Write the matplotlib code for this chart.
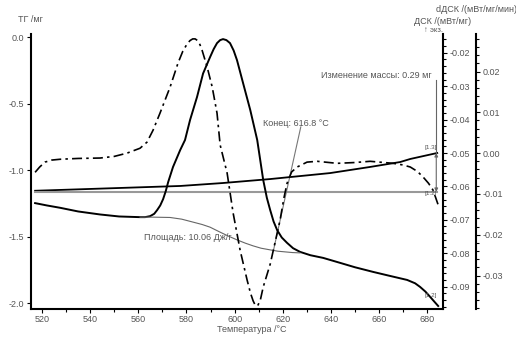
import numpy as np
import matplotlib
matplotlib.use("Agg")
import matplotlib.pyplot as plt
from matplotlib.ticker import MultipleLocator, AutoMinorLocator

plt.rcParams['font.family'] = ['Liberation Sans', 'DejaVu Sans']

# TG curve (mg)
tg_t = [517.1, 552.4, 577.4, 595.0, 614.8, 639.7, 656.3, 668.8, 673.0, 684.2]
tg_v = [-1.156, -1.135, -1.120, -1.098, -1.068, -1.023, -0.977, -0.940, -0.917, -0.872]
tg_ref = -1.165

# DSC curve (mW/mg)
dsc_t = [517.1, 522.0, 527.5, 535.0, 544.1, 552.0, 560.7, 562.8, 564.9, 566.6, 567.8,
         569.1, 570.3, 571.4, 572.4, 574.4, 577.4, 579.4, 581.5, 584.4, 586.9, 589.8,
         591.3, 592.7, 594.0, 595.2, 596.6, 598.1, 599.6, 601.0, 603.5, 606.5, 609.4,
         611.9, 613.4, 614.8, 616.2, 617.7, 619.6, 621.8, 624.3, 627.2, 631.5, 636.8,
         643.9, 650.0, 657.6, 664.0, 671.7, 675.0, 677.1, 679.3, 681.3, 683.0, 684.6]
dsc_v = [-0.0650, -0.0657, -0.0664, -0.0675, -0.0684, -0.0690, -0.0692, -0.0692, -0.0689,
         -0.0682, -0.0671, -0.0657, -0.0638, -0.0614, -0.0587, -0.0542, -0.0491, -0.0461,
         -0.0401, -0.0332, -0.0262, -0.0213, -0.0189, -0.0171, -0.0162, -0.0159, -0.0162,
         -0.0171, -0.0193, -0.0222, -0.0290, -0.0371, -0.0461, -0.0581, -0.0634, -0.0671,
         -0.0705, -0.0731, -0.0753, -0.0769, -0.0785, -0.0796, -0.0806, -0.0814, -0.0829,
         -0.0842, -0.0856, -0.0867, -0.0880, -0.0890, -0.0901, -0.0915, -0.0931, -0.0945,
         -0.0958]

# area baseline
base_t = [560.7, 566.0, 573.2, 578.0, 582.8, 586.5, 589.8, 594.0, 597.5, 601.0, 604.5,
          607.7, 611.0, 614.8, 618.0, 621.0, 624.0, 627.2]
base_v = [-0.0692, -0.0692, -0.0693, -0.0698, -0.0707, -0.0714, -0.0722, -0.0737, -0.0749,
          -0.0760, -0.0770, -0.0778, -0.0785, -0.0790, -0.0794, -0.0796, -0.0798, -0.0799]

# dDSC curve (mW/mg/min)
ddsc_t = [517.1, 519.0, 521.2, 524.0, 527.5, 535.0, 544.1, 550.0, 555.3, 560.7, 563.6,
          566.1, 569.0, 573.2, 576.5, 578.5, 580.3, 581.5, 582.6, 583.6, 584.6, 585.6,
          586.5, 588.6, 590.7, 592.7, 594.0, 596.9, 599.4, 602.3, 605.2, 606.6, 607.7,
          608.6, 609.6, 610.7, 611.9, 614.8, 618.9, 620.5, 621.8, 623.7, 626.0, 630.1,
          634.3, 642.6, 650.0, 656.3, 665.9, 670.0, 673.0, 676.0, 678.4, 680.6, 682.5,
          684.6]
ddsc_v = [-0.0047, -0.0034, -0.0022, -0.0017, -0.0015, -0.0013, -0.0012, -0.0008, 0.0,
          0.0012, 0.0027, 0.0056, 0.0098, 0.0162, 0.0221, 0.0250, 0.0268, 0.0276, 0.0280,
          0.0280, 0.0276, 0.0266, 0.0252, 0.0211, 0.0162, 0.0098, 0.0020, -0.0049, -0.0147,
          -0.0238, -0.0311, -0.0343, -0.0362, -0.0373, -0.0374, -0.0360, -0.0328, -0.0272,
          -0.0164, -0.0110, -0.0074, -0.0046, -0.0034, -0.0022, -0.0020, -0.0025, -0.0023,
          -0.0020, -0.0025, -0.0029, -0.0034, -0.0045, -0.0059, -0.0074, -0.0091, -0.0127]

W, H = 516, 343
fig = plt.figure(figsize=(W / 100, H / 100), dpi=100)
ax = fig.add_axes([31 / W, 1 - 309 / H, (443 - 31) / W, (309 - 34) / H])
ax2 = ax.twinx()
ax3 = ax.twinx()

lab_col = '#555555'
fs = 6.5

ax.plot(tg_t, tg_v, color='black', lw=1.3)
ax.plot([517.1, 684.2], [tg_ref, tg_ref], color='#999999', lw=1.5)
ax2.plot(dsc_t, dsc_v, color='black', lw=1.4)
ax2.plot(base_t, base_v, color='#666666', lw=0.8)
ax3.plot(ddsc_t, ddsc_v, color='black', lw=1.2, linestyle=(0, (6, 2.5, 1.5, 2.5)))

ax.set_xlim(515.4, 686.6)
ax.set_ylim(-2.045, 0.0226)
ax2.set_ylim(-0.0967, -0.01437)
ax3.set_ylim(-0.0382, 0.0292)

ax.xaxis.set_major_locator(MultipleLocator(20))
ax.xaxis.set_minor_locator(MultipleLocator(10))
ax.yaxis.set_major_locator(MultipleLocator(0.5))
ax.yaxis.set_major_formatter(plt.FuncFormatter(lambda v, p: '%.1f' % v))
ax2.yaxis.set_major_locator(MultipleLocator(0.01))
ax2.yaxis.set_minor_locator(AutoMinorLocator(5))
ax2.yaxis.set_major_formatter(plt.FuncFormatter(lambda v, p: '%.2f' % v))
ax3.yaxis.set_major_locator(MultipleLocator(0.01))
ax3.yaxis.set_minor_locator(AutoMinorLocator(5))
ax3.yaxis.set_major_formatter(plt.FuncFormatter(lambda v, p: '%.2f' % v))

for a in (ax, ax2, ax3):
    a.spines['top'].set_visible(False)
    a.tick_params(which='both', direction='out', labelsize=fs, labelcolor=lab_col,
                  color='black', width=0.8, pad=2)
    a.tick_params(which='major', length=3)
    a.tick_params(which='minor', length=2)
ax.tick_params(axis='x', pad=1)
ax.spines['right'].set_visible(False)
ax.spines['left'].set_linewidth(1.5)
ax.spines['bottom'].set_linewidth(1.5)
ax2.spines['left'].set_visible(False)
ax2.spines['bottom'].set_visible(False)
ax2.spines['right'].set_linewidth(1.5)
ax3.spines['left'].set_visible(False)
ax3.spines['bottom'].set_visible(False)
ax3.spines['right'].set_position(('outward', 33 * 0.72))
ax3.spines['right'].set_linewidth(1.5)

# labels
def ftext(x, y, s, **kw):
    kw.setdefault('fontsize', fs)
    kw.setdefault('color', lab_col)
    kw.setdefault('ha', 'center')
    kw.setdefault('va', 'center')
    fig.text(x / W, 1 - y / H, s, **kw)

ftext(30, 20, 'ТГ /мг')
ftext(476, 10, 'dДСК /(мВт/мг/мин)')
ftext(443, 21, 'ДСК /(мВт/мг)')
ftext(433, 31, '↑ экз.', fontsize=5.5)
ftext(432, 76, 'Изменение массы: 0.29 мг', ha='right')
ftext(296, 123, 'Конец: 616.8 °C')
ftext(188, 237, 'Площадь: 10.06 Дж/г')
ftext(252, 330, 'Температура /°C')
ftext(431, 147, '[1.3]', fontsize=4.5)
ftext(431, 194, '[1.2]', fontsize=4.5)
ftext(431, 296, '[1.2]', fontsize=4.5)

# mass change marker
ax.plot([683.8, 683.8], [-0.323, -0.872], color='#666666', lw=0.8)
ax.annotate('', xy=(683.8, tg_ref), xytext=(683.8, -0.872),
            arrowprops=dict(arrowstyle='<|-|>', color='#666666', lw=0.8,
                            mutation_scale=5, shrinkA=0, shrinkB=0))

# end-point pointer
ax2.plot([627.5, 616.2], [-0.0422, -0.0790], color='#777777', lw=0.8)

fig.savefig('out.png', dpi=100)
